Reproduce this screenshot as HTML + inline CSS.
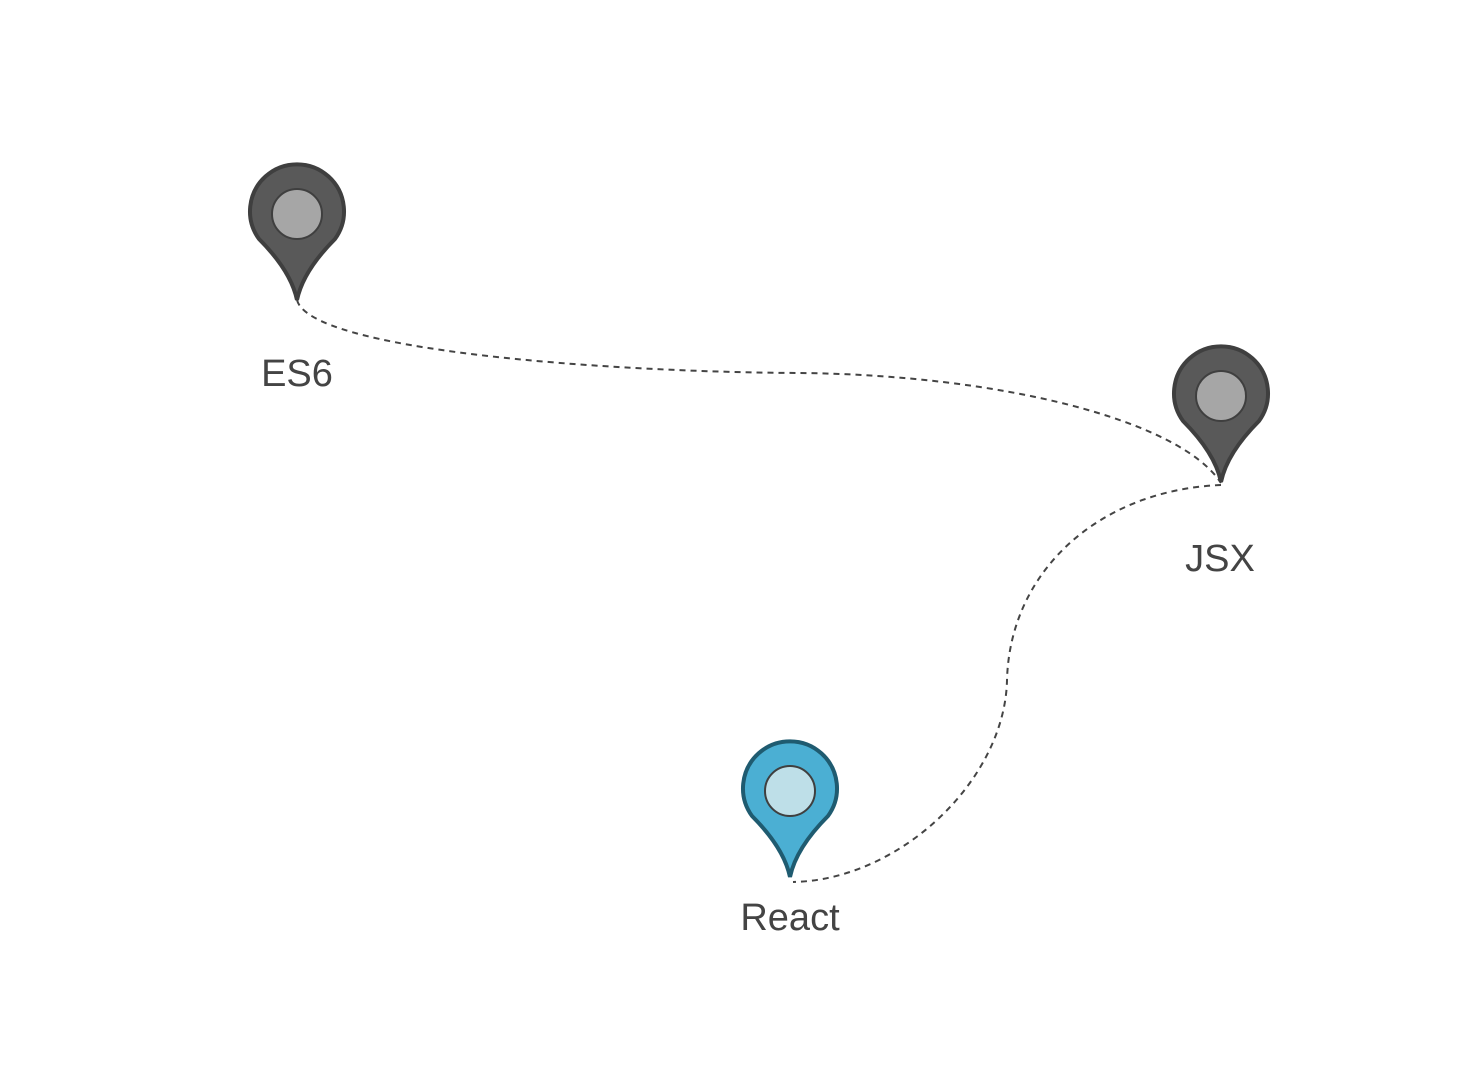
<!DOCTYPE html>
<html><head><meta charset="utf-8"><style>
html,body{margin:0;padding:0;background:#fff;}
svg{display:block}
text{font-family:"Liberation Sans",sans-serif;font-size:38px;fill:#444;text-anchor:middle;}
</style></head><body>
<svg width="1482" height="1072" viewBox="0 0 1482 1072" xmlns="http://www.w3.org/2000/svg">
<defs>
<path id="pin" d="M -38,28 A 47 47 0 1 1 38,28 C 23,43 5,65 0,89 C -5,65 -23,43 -38,28 Z"/>
</defs>
<g fill="none" stroke="#444" stroke-width="2" stroke-dasharray="6,5">
<path d="M297,300 C 310,350 600,372 800,373 C 1000,375 1180,420 1221,483"/>
<path d="M1221,485 C 1100,490 1010,570 1007,680 C 1005,780 900,880 793,882"/>
</g>
<g transform="translate(297,211)">
<use href="#pin" fill="#595959" stroke="#3f3f3f" stroke-width="4"/>
<circle cy="3" r="25" fill="#a6a6a6" stroke="#3f3f3f" stroke-width="2"/>
</g>
<g transform="translate(1221,393)">
<use href="#pin" fill="#595959" stroke="#3f3f3f" stroke-width="4"/>
<circle cy="3" r="25" fill="#a6a6a6" stroke="#3f3f3f" stroke-width="2"/>
</g>
<g transform="translate(790,788)">
<use href="#pin" fill="#4bafd3" stroke="#1f5b70" stroke-width="4"/>
<circle cy="3" r="25" fill="#bedfe8" stroke="#3f3f3f" stroke-width="2"/>
</g>
<text x="297" y="386">ES6</text>
<text x="1220" y="571">JSX</text>
<text x="790" y="930">React</text>
</svg>
</body></html>
